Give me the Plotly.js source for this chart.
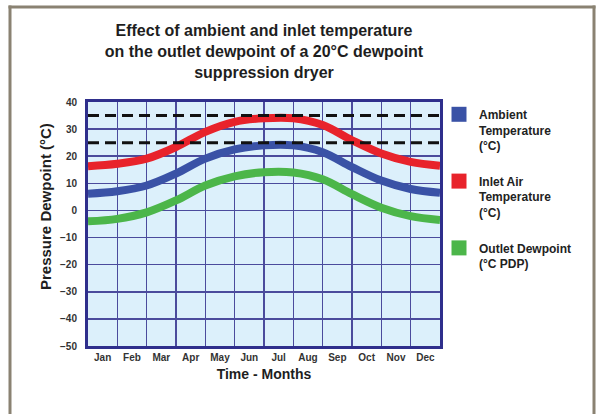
<!DOCTYPE html>
<html>
<head>
<meta charset="utf-8">
<script src="https://cdn.plot.ly/plotly-3.0.1.min.js"></script>
<style>html,body{margin:0;padding:0;background:#fff;}#chart{width:598px;height:414px;}</style>
</head>
<body>
<div id="chart"></div>
<script>
// ---- data ----
var months = ["Jan","Feb","Mar","Apr","May","Jun","Jul","Aug","Sep","Oct","Nov","Dec"];
var monthPos = [0.5,1.5,2.5,3.5,4.5,5.5,6.5,7.5,8.5,9.5,10.5,11.5];
var xBoundaries = [0,1,2,3,4,5,6,7,8,9,10,11,12];
var inletAir = [16.3,17.2,19.1,23.4,29.0,32.7,34.0,34.0,31.5,25.9,21.0,17.9,16.5];
var ambient  = [6.2,7.1,9.2,13.6,19.1,22.5,24.0,24.0,21.5,16.0,11.0,7.9,6.5];
var outlet   = [-4.0,-3.1,-0.7,3.7,9.2,12.6,14.1,14.0,11.5,6.0,1.0,-2.1,-3.5];
var refLevels = [35,25];
var yTicks = [40,30,20,10,0,-10,-20,-30,-40,-50];

var W=598,H=414,ml=88,mr=158,mt=102,mb=68;
var pw=W-ml-mr, ph=H-mt-mb;
function px2x(p){return (p-ml)/pw;}
function px2y(p){return (H-mb-p)/ph;}

var font = "Liberation Sans, Arial, sans-serif";
var traces = [];
function line(y,color){
  return {x:xBoundaries,y:y,mode:'lines',line:{color:color,width:8,shape:'spline',smoothing:1},showlegend:false,hoverinfo:'skip'};
}
traces.push(line(ambient,'#3a52a6'));
traces.push(line(inletAir,'#e8232b'));
traces.push(line(outlet,'#4cb64a'));
refLevels.forEach(function(v){
  traces.push({x:[0,12],y:[v,v],mode:'lines',line:{color:'#111',width:3,dash:'11px,6px'},showlegend:false,hoverinfo:'skip'});
});
var leg = [["Ambient<br>Temperature<br>(°C)",'#3a52a6'],["Inlet Air<br>Temperature<br>(°C)",'#e8232b'],["Outlet Dewpoint<br>(°C PDP)",'#4cb64a']];
leg.forEach(function(l,i){
  traces.push({x:[null],y:[null],mode:'markers',name:l[0],legendgroup:'g'+i,marker:{symbol:'square',size:15,color:l[1]}});
});

var frameColor = '#8a8272';
function frameLine(x0,y0,x1,y1){
  return {type:'line',xref:'paper',yref:'paper',x0:px2x(x0),x1:px2x(x1),y0:px2y(y0),y1:px2y(y1),
          line:{color:frameColor,width:3}};
}
var layout = {
  width:W,height:H,
  margin:{l:ml,r:mr,t:mt,b:mb},
  paper_bgcolor:'#ffffff',
  plot_bgcolor:'#dcf0fb',
  font:{family:font,color:'#222'},
  title:{text:"<b>Effect of ambient and inlet temperature<br>on the outlet dewpoint of a 20°C dewpoint<br>suppression dryer</b>",
         font:{size:16,color:'#1e1e1e'},x:0.5,xref:'paper',xanchor:'center',y:1-36/H,yref:'container',yanchor:'top'},
  xaxis:{range:[0,12],tickvals:monthPos,ticktext:months,showgrid:false,zeroline:false,ticks:'',
         tickfont:{size:10,color:'#333',family:font,weight:'bold'},
         minor:{tickvals:xBoundaries,showgrid:true,gridcolor:'#4b4b9c',gridwidth:1.5,ticks:''},
         showline:true,linecolor:'#2f2f8c',linewidth:3,mirror:true,fixedrange:true,
         title:{text:"<b>Time - Months</b>",font:{size:14,color:'#1e1e1e'},standoff:8}},
  yaxis:{range:[-50,40],tickvals:yTicks,ticks:'',showgrid:true,gridcolor:'#4b4b9c',gridwidth:1.5,zeroline:false,
         tickfont:{size:10,color:'#333',family:font,weight:'bold'},ticklabelstandoff:6,
         showline:true,linecolor:'#2f2f8c',linewidth:3,mirror:true,fixedrange:true},
  annotations:[{text:"<b>Pressure Dewpoint (°C)</b>",textangle:-90,xref:'paper',yref:'paper',
                x:px2x(45),y:px2y(207),xanchor:'center',yanchor:'middle',showarrow:false,
                font:{size:15,color:'#1e1e1e',family:font}}],
  legend:{x:px2x(439),y:px2y(100),xanchor:'left',yanchor:'top',bgcolor:'rgba(0,0,0,0)',
          font:{size:12,color:'#222',family:font,weight:'bold'},tracegroupgap:17,valign:'top',
          itemwidth:30},
  shapes:[
    frameLine(8.5,7,595.5,7),
    frameLine(10,5.5,10,414),
    frameLine(594,5.5,594,414)
  ],
  showlegend:true
};
Plotly.newPlot('chart',traces,layout,{displayModeBar:false,staticPlot:true});
</script>
</body>
</html>
